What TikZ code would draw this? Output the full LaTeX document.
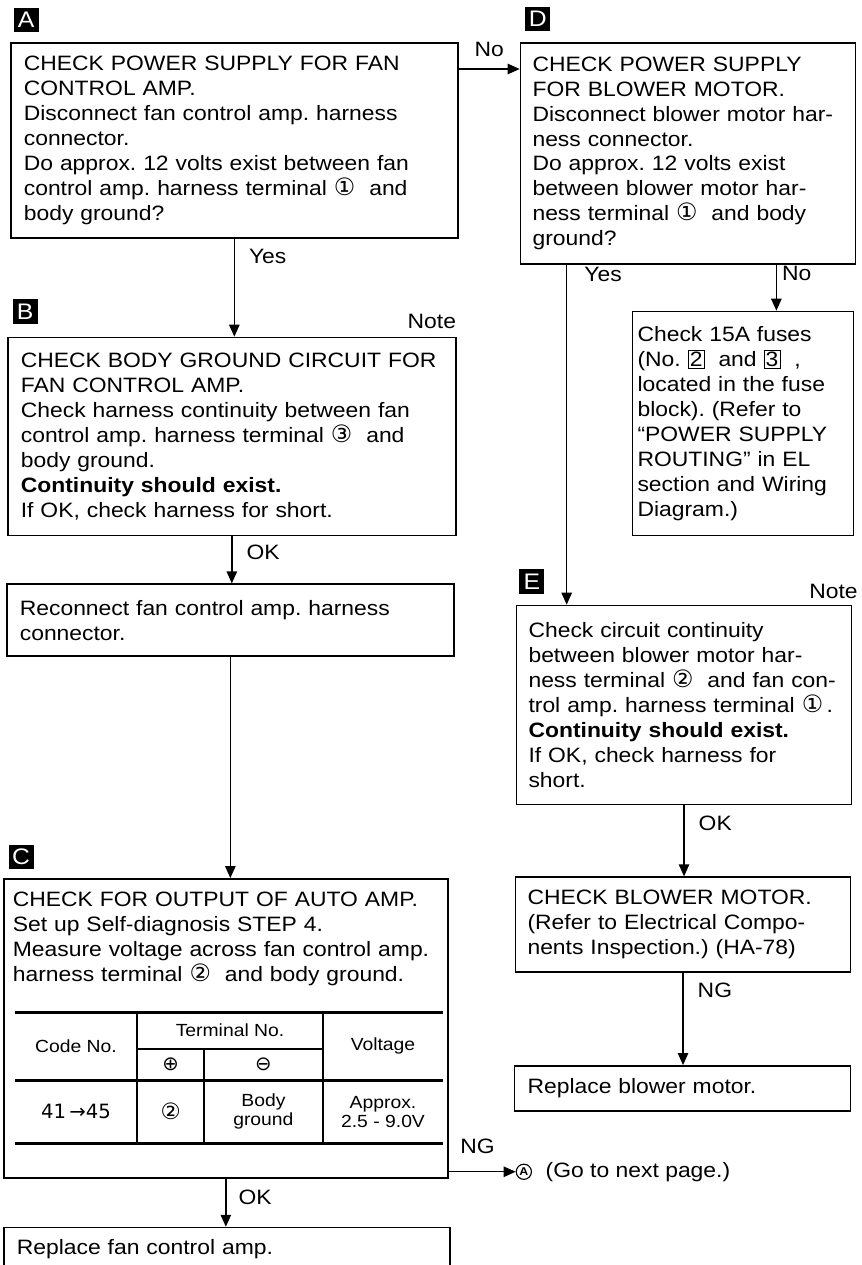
\documentclass[tikz,border=0pt]{standalone}
\usepackage{fontspec}
\setmainfont[FakeStretch=1.1]{Liberation Sans}
\newfontfamily\dejavu{DejaVu Sans}
\usetikzlibrary{positioning,arrows.meta}
\frenchspacing

% circled terminal numbers and boxed fuse numbers
\newcommand\termno[1]{{\dejavu\fontsize{17}{13}\selectfont #1}}
\newcommand\fusenum[1]{{\setlength\fboxsep{0.8pt}\setlength\fboxrule{0.7pt}\fbox{#1}}}

\begin{document}
\begin{tikzpicture}[>={Triangle[length=3mm,width=2.6mm]},line width=1pt,
  every node/.style={font=\fontsize{14.8}{17.7}\selectfont},
  box/.style={draw,line width=1.2pt,align=left,inner xsep=3.25mm,inner ysep=2mm},
  tag/.style={fill=black,text=white,minimum size=6.2mm,inner sep=0pt,font=\fontsize{16}{16}\selectfont},
  lbl/.style={inner sep=0pt},
  cell/.style={align=center,inner sep=0pt,font=\fontsize{12.5}{13.5}\selectfont}]
\useasboundingbox (0,0) rectangle (215.25mm,-316.25mm);

% left column
\node[box,anchor=north west,minimum width=111.75mm,text width=105.25mm,minimum height=48.75mm] (chkA) at (2.5mm,-10.5mm)
  {CHECK POWER SUPPLY FOR FAN\\CONTROL AMP.\\Disconnect fan control amp. harness\\connector.\\Do approx. 12 volts exist between fan\\control amp. harness terminal \termno{①}\ \ and\\body ground?};
\node[box,below=24.5mm of chkA.south west,anchor=north west,xshift=-0.75mm,minimum width=112mm,text width=105.5mm,minimum height=49.5mm] (chkB)
  {CHECK BODY GROUND CIRCUIT FOR\\FAN CONTROL AMP.\\Check harness continuity between fan\\control amp. harness terminal \termno{③}\ \ and\\body ground.\\\textbf{Continuity should exist.}\\If OK, check harness for short.};
\node[box,below=11.75mm of chkB.south west,anchor=north west,xshift=-0.25mm,minimum width=111.75mm,text width=105.25mm,minimum height=18mm] (chkR)
  {Reconnect fan control amp. harness\\connector.};
\node[box,below=55.25mm of chkR.south west,anchor=north west,xshift=-0.75mm,minimum width=111mm,inner xsep=2.25mm,text width=106.5mm,inner ysep=3mm,minimum height=74.75mm] (chkC)
  {CHECK FOR OUTPUT OF AUTO AMP.\\Set up Self-diagnosis STEP 4.\\Measure voltage across fan control amp.\\harness terminal \termno{②}\ \ and body ground.\\\rule{0pt}{44.5mm}};
\node[box,below=12mm of chkC.south west,anchor=north west,minimum width=111.5mm,text width=105mm,inner ysep=3mm,minimum height=16mm] (repFan)
  {Replace fan control amp.\\\rule{0pt}{4.9mm}};

% right column
\node[box,right=15.25mm of chkA.north east,anchor=north west,minimum width=83.75mm,inner xsep=3mm,text width=77.75mm,minimum height=55.25mm] (chkD)
  {CHECK POWER SUPPLY\\FOR BLOWER MOTOR.\\Disconnect blower motor har-\\ness connector.\\Do approx. 12 volts exist\\between blower motor har-\\ness terminal \termno{①}\ \ and body\\ground?};
\node[box,below=11.5mm of chkD.south east,anchor=north east,xshift=-0.5mm,minimum width=55.25mm,inner xsep=1.25mm,text width=52.75mm,minimum height=56mm] (fuse)
  {Check 15A fuses\\(No. \fusenum{2}\ \ and \fusenum{3}\ \ ,\\located in the fuse\\block). (Refer to\\``POWER SUPPLY\\ROUTING'' in EL\\section and Wiring\\Diagram.)};
\node[box,below=85mm of chkD.south west,anchor=north west,xshift=-1mm,minimum width=83.75mm,inner xsep=3mm,text width=77.75mm,minimum height=49.75mm] (chkE)
  {Check circuit continuity\\between blower motor har-\\ness terminal \termno{②}\ \ and fan con-\\trol amp. harness terminal \termno{①}\,.\\\textbf{Continuity should exist.}\\If OK, check harness for\\short.};
\node[box,below=17.75mm of chkE.south west,anchor=north west,xshift=-0.25mm,minimum width=83.75mm,inner xsep=3mm,text width=77.75mm,minimum height=23.75mm] (chkM)
  {CHECK BLOWER MOTOR.\\(Refer to Electrical Compo-\\nents Inspection.) (HA-78)};
\node[box,below=23mm of chkM.south west,anchor=north west,xshift=-0.25mm,minimum width=84mm,text width=77.5mm,minimum height=11.25mm] (repM)
  {Replace blower motor.};

% step tags and notes
\node[tag,above right=2.25mm and 0.75mm of chkA.north west] (tagA) {A};
\node[tag,above right=3mm and 1.25mm of chkB.north west] (tagB) {B};
\node[tag,above right=2mm and 1.25mm of chkC.north west] (tagC) {C};
\node[tag,above right=2.5mm and 1.25mm of chkD.north west] (tagD) {D};
\node[tag,above right=2.5mm and 0.75mm of chkE.north west] (tagE) {E};
\node[lbl,above left=1.75mm and 0mm of chkB.north east] (noteB) {Note};
\node[lbl,above left=1.25mm and -1.5mm of chkE.north east] (noteE) {Note};

% table of C
\begin{scope}[shift={(chkC.north west)}]
  \foreach \y in {33.5,50.5,66.25} \draw[line width=2.2pt] (3mm,-\y mm) -- (110mm,-\y mm);
  \draw[line width=.9pt] (33.5mm,-42.75mm) -- (80mm,-42.75mm);
  \draw[line width=.9pt] (33.5mm,-33.5mm) -- (33.5mm,-66.25mm) (80mm,-33.5mm) -- (80mm,-66.25mm)
    (50.25mm,-42.75mm) -- (50.25mm,-66.25mm);
  \node[cell] (hCode) at (18.25mm,-42mm) {Code No.};
  \node[cell] (hTerm) at (56.75mm,-38.1mm) {Terminal No.};
  \node[cell] (hVolt) at (95mm,-42mm) {Voltage};
  \node[cell] (hPlus) at (41.9mm,-46.6mm) {\dejavu\fontsize{14}{14}\selectfont ⊕};
  \node[cell] (hMinus) at (65.1mm,-46.6mm) {\dejavu\fontsize{14}{14}\selectfont ⊖};
  \node[cell] (vCode) at (18.25mm,-58.4mm) {\dejavu\fontsize{14}{14}\selectfont 41\,→45};
  \node[cell] (vPlus) at (41.9mm,-58.4mm) {\dejavu\fontsize{16}{16}\selectfont ②};
  \node[cell] (vMinus) at (65.1mm,-58.4mm) {Body\\ground};
  \node[cell] (vVolt) at (95mm,-58.4mm) {Approx.\\2.5 - 9.0V};
\end{scope}

% go-to mark
\coordinate (ngC) at ([yshift=1.75mm]chkC.south east);
\node[circle,draw,line width=.8pt,minimum size=3.8mm,inner sep=0pt,font=\fontsize{8}{8}\bfseries\selectfont,right=16.75mm of ngC] (nextA) {A};
\node[lbl,right=3.25mm of nextA] (gotoTxt) {(Go to next page.)};

% connectors
\coordinate (noA) at ([yshift=-6.75mm]chkA.north east);
\coordinate (yesD) at ([xshift=11.75mm]chkD.south west);
\coordinate (noD) at ([xshift=-20mm]chkD.south east);
\draw[->] (chkA.south) -- (chkA.south |- chkB.north) node[lbl,pos=.18,right=3.5mm] {Yes};
\draw[->] (noA) -- (noA -| chkD.west) node[lbl,midway,above=3mm] {No};
\draw[->] (chkB.south) -- (chkB.south |- chkR.north) node[lbl,pos=.33,right=3.5mm] {OK};
\draw[->] (chkR.south) -- (chkR.south |- chkC.north);
\draw[->] (chkC.south) -- (chkC.south |- repFan.north) node[lbl,pos=.38,right=3mm] {OK};
\draw[->] (ngC) -- (nextA) node[lbl,pos=0,above right=4.25mm and 2.75mm] {NG};
\draw[->] (yesD) -- (yesD |- chkE.north) node[lbl,pos=.03,right=4.25mm] {Yes};
\draw[->] (noD) -- (noD |- fuse.north) node[lbl,pos=.2,right=1.25mm] {No};
\draw[->] (chkE.south) -- (chkE.south |- chkM.north) node[lbl,pos=.25,right=3.5mm] {OK};
\draw[->] (chkM.south) -- (chkM.south |- repM.north) node[lbl,pos=.19,right=3.5mm] {NG};
\end{tikzpicture}
\end{document}
